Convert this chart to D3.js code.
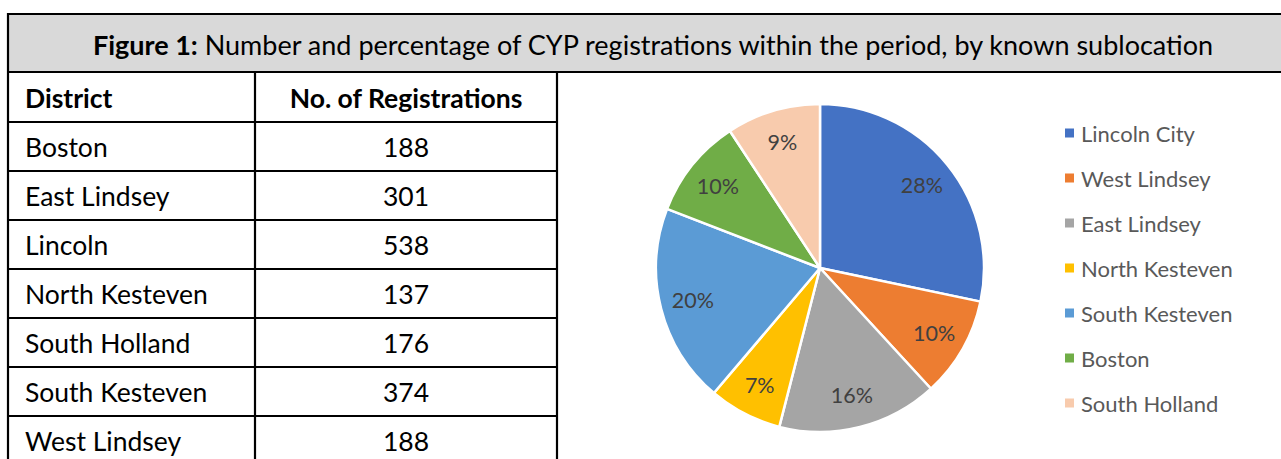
<!DOCTYPE html>
<html>
<head>
<meta charset="utf-8">
<script src="https://cdn.jsdelivr.net/npm/d3@7"></script>
<style>
  html, body { margin: 0; padding: 0; background: #fff; }
  svg { display: block; }
</style>
</head>
<body>
<div id="chart"></div>
<script>
// Figure 1 - CYP registrations by known sublocation
// Table of counts on the left, pie of the same counts on the right.

const TABLE_DISTRICTS = ["Boston", "East Lindsey", "Lincoln", "North Kesteven",
                         "South Holland", "South Kesteven", "West Lindsey"];
const TABLE_COUNTS    = [188, 301, 538, 137, 176, 374, 188];

const PIE_LABELS = ["Lincoln City", "West Lindsey", "East Lindsey", "North Kesteven",
                    "South Kesteven", "Boston", "South Holland"];
const PIE_VALUES = [538, 188, 301, 137, 374, 188, 176];
const PIE_COLORS = ["#4472c4", "#ed7d31", "#a5a5a5", "#ffc000",
                    "#5b9bd5", "#70ad47", "#f8cbad"];

const W = 1281, H = 459;
const FONT = "Lato, 'Open Sans', sans-serif";

const svg = d3.select("#chart").append("svg")
  .attr("width", W).attr("height", H);

// ---- Frame and title bar
const frameL = 8, frameT = 14, titleB = 72;

svg.append("rect")
  .attr("x", frameL).attr("y", frameT)
  .attr("width", W - frameL + 2).attr("height", titleB - frameT)
  .attr("fill", "#d9d9d9");

const title = svg.append("text")
  .attr("x", 653).attr("y", 55)
  .attr("text-anchor", "middle")
  .attr("font-family", FONT)
  .attr("font-size", "27px")
  .attr("fill", "#000");
title.append("tspan").attr("font-weight", "700").text("Figure 1:");
title.append("tspan").text(" Number and percentage of CYP registrations within the period, by known sublocation");

// ---- Table
const colX  = [frameL, 255, 557];
const rowH  = 49;
const headT = titleB, headB = 122;
const rowTops = d3.range(TABLE_DISTRICTS.length + 1).map(i => headB + i * rowH);

const lines = svg.append("g").attr("stroke", "#000").attr("stroke-width", 2.2);
// horizontal
lines.append("line").attr("x1", frameL).attr("x2", W + 2).attr("y1", frameT).attr("y2", frameT);
lines.append("line").attr("x1", frameL).attr("x2", W + 2).attr("y1", titleB).attr("y2", titleB);
rowTops.forEach(y => {
  lines.append("line").attr("x1", frameL).attr("x2", colX[2]).attr("y1", y).attr("y2", y);
});
// vertical
lines.append("line").attr("x1", frameL).attr("x2", frameL).attr("y1", frameT - 1).attr("y2", H + 2);
lines.append("line").attr("x1", colX[1]).attr("x2", colX[1]).attr("y1", titleB).attr("y2", H + 2);
lines.append("line").attr("x1", colX[2]).attr("x2", colX[2]).attr("y1", titleB).attr("y2", H + 2);

const cellText = (x, y, txt, anchor, bold) => svg.append("text")
  .attr("x", x).attr("y", y)
  .attr("text-anchor", anchor)
  .attr("font-family", FONT)
  .attr("font-size", "26.5px")
  .attr("font-weight", bold ? "700" : "400")
  .attr("fill", "#000")
  .text(txt);

cellText(25, 108, "District", "start", true);
cellText((colX[1] + colX[2]) / 2, 108, "No. of Registrations", "middle", true);

TABLE_DISTRICTS.forEach((d, i) => {
  const y = rowTops[i] + 35;
  cellText(25, y, d, "start", false);
  cellText((colX[1] + colX[2]) / 2, y, TABLE_COUNTS[i], "middle", false);
});

// ---- Pie
const cx = 820, cy = 268, R = 164;
const total = d3.sum(PIE_VALUES);
const pieData = PIE_LABELS.map((l, i) => ({ label: l, value: PIE_VALUES[i], color: PIE_COLORS[i] }));

const pie = d3.pie().sort(null).value(d => d.value);
const arc = d3.arc().innerRadius(0).outerRadius(R);
const labelArc = d3.arc().innerRadius(R * 0.8).outerRadius(R * 0.8);

const pg = svg.append("g").attr("transform", `translate(${cx},${cy})`);
const arcs = pie(pieData);

pg.selectAll("path")
  .data(arcs)
  .join("path")
    .attr("d", arc)
    .attr("fill", d => d.data.color)
    .attr("stroke", "#fff")
    .attr("stroke-width", 2.5)
    .attr("stroke-linejoin", "round");

pg.selectAll("text")
  .data(arcs)
  .join("text")
    .attr("transform", d => `translate(${labelArc.centroid(d)})`)
    .attr("text-anchor", "middle")
    .attr("dominant-baseline", "central")
    .attr("font-family", FONT)
    .attr("font-size", "21.5px")
    .attr("fill", "#404040")
    .text(d => d3.format(".0%")(d.data.value / total));

// ---- Legend
const legY = d3.scalePoint().domain(PIE_LABELS).range([133, 403]);
const lg = svg.append("g");
PIE_LABELS.forEach((l, i) => {
  lg.append("rect")
    .attr("x", 1065).attr("y", legY(l) - 4.5)
    .attr("width", 9).attr("height", 9)
    .attr("fill", PIE_COLORS[i]);
  lg.append("text")
    .attr("x", 1081).attr("y", legY(l))
    .attr("dominant-baseline", "central")
    .attr("font-family", FONT)
    .attr("font-size", "22px")
    .attr("fill", "#595959")
    .text(l);
});
</script>
</body>
</html>
